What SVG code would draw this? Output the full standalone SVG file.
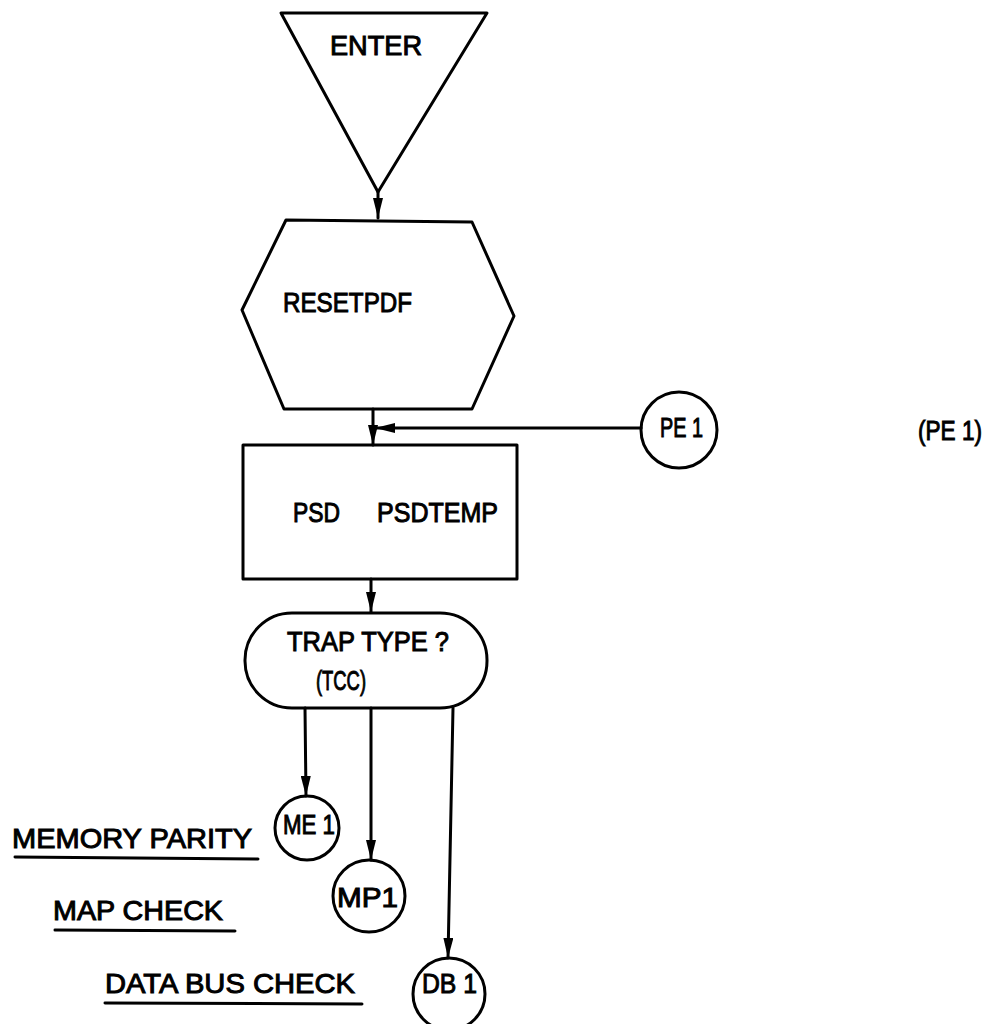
<svg xmlns="http://www.w3.org/2000/svg" width="1005" height="1024" viewBox="0 0 1005 1024">
<defs>
<style>
.s{fill:none;stroke:#000;stroke-width:3;stroke-linejoin:round;stroke-linecap:round}
.t{font-family:"Liberation Sans",Arial,sans-serif;fill:#000;stroke:#000;stroke-width:1;font-size:28px}
.a{fill:#000;stroke:none}
</style>
<marker id="ah" viewBox="0 0 20 10" refX="20" refY="5" markerWidth="20" markerHeight="10" markerUnits="userSpaceOnUse" orient="auto">
<path d="M0,0 L20,5 L0,10 Z" class="a"/>
</marker>
</defs>
<rect width="1005" height="1024" fill="#fff"/>
<g id="connectors">
<line class="s" x1="378" y1="192" x2="378" y2="218" marker-end="url(#ah)"/>
<line class="s" x1="373" y1="409" x2="373" y2="445" marker-end="url(#ah)"/>
<line class="s" x1="641" y1="428" x2="375" y2="428" marker-end="url(#ah)"/>
<line class="s" x1="371" y1="579" x2="371" y2="612" marker-end="url(#ah)"/>
<line class="s" x1="305" y1="708" x2="306" y2="796" marker-end="url(#ah)"/>
<line class="s" x1="371" y1="708" x2="371" y2="860" marker-end="url(#ah)"/>
<line class="s" x1="453" y1="708" x2="448" y2="958" marker-end="url(#ah)"/>
</g>
<g id="enter">
<polygon class="s" points="281,13 487,13 378,192"/>
<text class="t" x="330" y="55" font-size="30" textLength="92" lengthAdjust="spacingAndGlyphs">ENTER</text>
</g>
<g id="resetpdf">
<polygon class="s" points="286,220 472,222 514,316 472,409 284,409 242,310"/>
<text class="t" x="283" y="312" font-size="25" textLength="129" lengthAdjust="spacingAndGlyphs">RESETPDF</text>
</g>
<g id="pe1">
<circle class="s" cx="679" cy="430" r="38"/>
<text class="t" x="660" y="437" font-size="30" textLength="43" lengthAdjust="spacingAndGlyphs">PE 1</text>
</g>
<g id="pe1-ref">
<text class="t" x="918" y="440" font-size="26" textLength="64" lengthAdjust="spacingAndGlyphs">(PE 1)</text>
</g>
<g id="psd">
<rect class="s" x="243" y="445" width="274" height="134"/>
<text class="t" x="293" y="522" font-size="28" textLength="47" lengthAdjust="spacingAndGlyphs">PSD</text>
<text class="t" x="377" y="522" font-size="28" textLength="121" lengthAdjust="spacingAndGlyphs">PSDTEMP</text>
</g>
<g id="traptype">
<rect class="s" x="245" y="613" width="242" height="95" rx="47" ry="47"/>
<text class="t" x="287" y="651" font-size="32" textLength="162" lengthAdjust="spacingAndGlyphs">TRAP TYPE ?</text>
<text class="t" x="316" y="690" font-size="30" textLength="50" lengthAdjust="spacingAndGlyphs">(TCC)</text>
</g>
<g id="me1">
<circle class="s" cx="307" cy="828" r="32"/>
<text class="t" x="283" y="834" font-size="28" textLength="52" lengthAdjust="spacingAndGlyphs">ME 1</text>
</g>
<g id="mp1">
<circle class="s" cx="369" cy="896" r="36"/>
<text class="t" x="337" y="907" font-size="31" textLength="61" lengthAdjust="spacingAndGlyphs">MP1</text>
</g>
<g id="db1">
<circle class="s" cx="449" cy="994" r="36"/>
<text class="t" x="422" y="993" font-size="28" textLength="55" lengthAdjust="spacingAndGlyphs">DB 1</text>
</g>
<g id="labels">
<text class="t" x="12" y="848" font-size="30" textLength="240" lengthAdjust="spacingAndGlyphs">MEMORY PARITY</text>
<line class="s" x1="15" y1="857" x2="258" y2="859"/>
<text class="t" x="53" y="920" font-size="30" textLength="170" lengthAdjust="spacingAndGlyphs">MAP CHECK</text>
<line class="s" x1="55" y1="930" x2="235" y2="931"/>
<text class="t" x="105" y="993" font-size="29" textLength="250" lengthAdjust="spacingAndGlyphs">DATA BUS CHECK</text>
<line class="s" x1="105" y1="1003" x2="362" y2="1004"/>
</g>
</svg>
